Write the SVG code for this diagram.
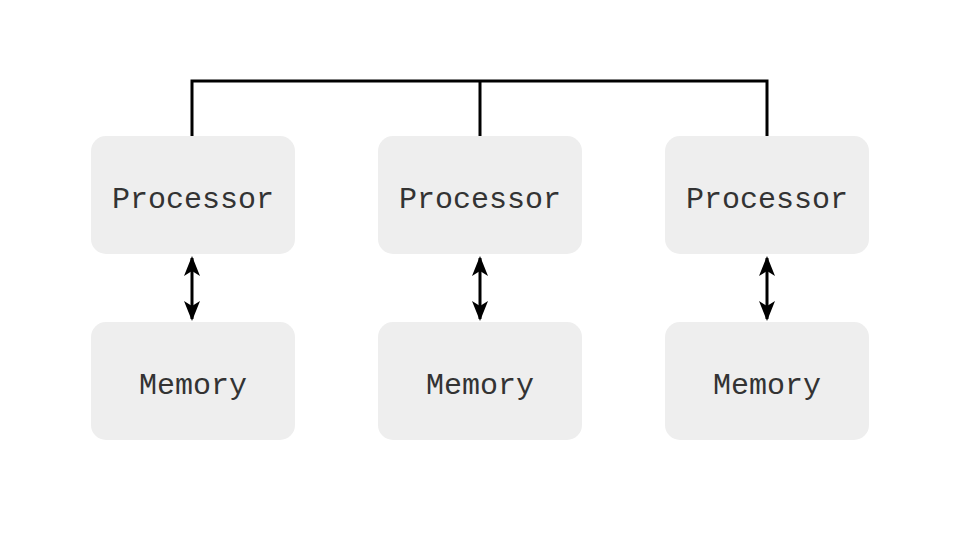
<svg xmlns="http://www.w3.org/2000/svg" width="960" height="540" viewBox="0 0 960 540">
<style>
.box{fill:#eeeeee;}
.lbl{font-family:"Liberation Mono","Courier New",monospace;font-size:30px;fill:#333333;text-anchor:middle;}
.bus{fill:none;stroke:#000;stroke-width:3;}
.arr{fill:none;stroke:#000;stroke-width:3;marker-start:url(#ah);marker-end:url(#ah);}
</style>
<defs>
<marker id="ah" viewBox="0 0 20 16" refX="18" refY="8" markerWidth="20" markerHeight="16" markerUnits="userSpaceOnUse" orient="auto-start-reverse">
<path d="M0,0 L20,8 L0,16 L5,8 Z" fill="#000"/>
</marker>
</defs>
<rect width="960" height="540" fill="#ffffff"/>
<g id="connectors">
<path class="bus" d="M192,136 V81 H767 V136"/>
<path class="bus" d="M480,81 V136"/>
<line class="arr" x1="192" y1="258" x2="192" y2="319"/>
<line class="arr" x1="480" y1="258" x2="480" y2="319"/>
<line class="arr" x1="767" y1="258" x2="767" y2="319"/>
</g>
<g id="proc1"><rect class="box" x="91" y="136" width="204" height="118" rx="15"/><text class="lbl" x="193" y="208">Processor</text></g>
<g id="proc2"><rect class="box" x="378" y="136" width="204" height="118" rx="15"/><text class="lbl" x="480" y="208">Processor</text></g>
<g id="proc3"><rect class="box" x="665" y="136" width="204" height="118" rx="15"/><text class="lbl" x="767" y="208">Processor</text></g>
<g id="mem1"><rect class="box" x="91" y="322" width="204" height="118" rx="15"/><text class="lbl" x="193" y="394">Memory</text></g>
<g id="mem2"><rect class="box" x="378" y="322" width="204" height="118" rx="15"/><text class="lbl" x="480" y="394">Memory</text></g>
<g id="mem3"><rect class="box" x="665" y="322" width="204" height="118" rx="15"/><text class="lbl" x="767" y="394">Memory</text></g>
</svg>
